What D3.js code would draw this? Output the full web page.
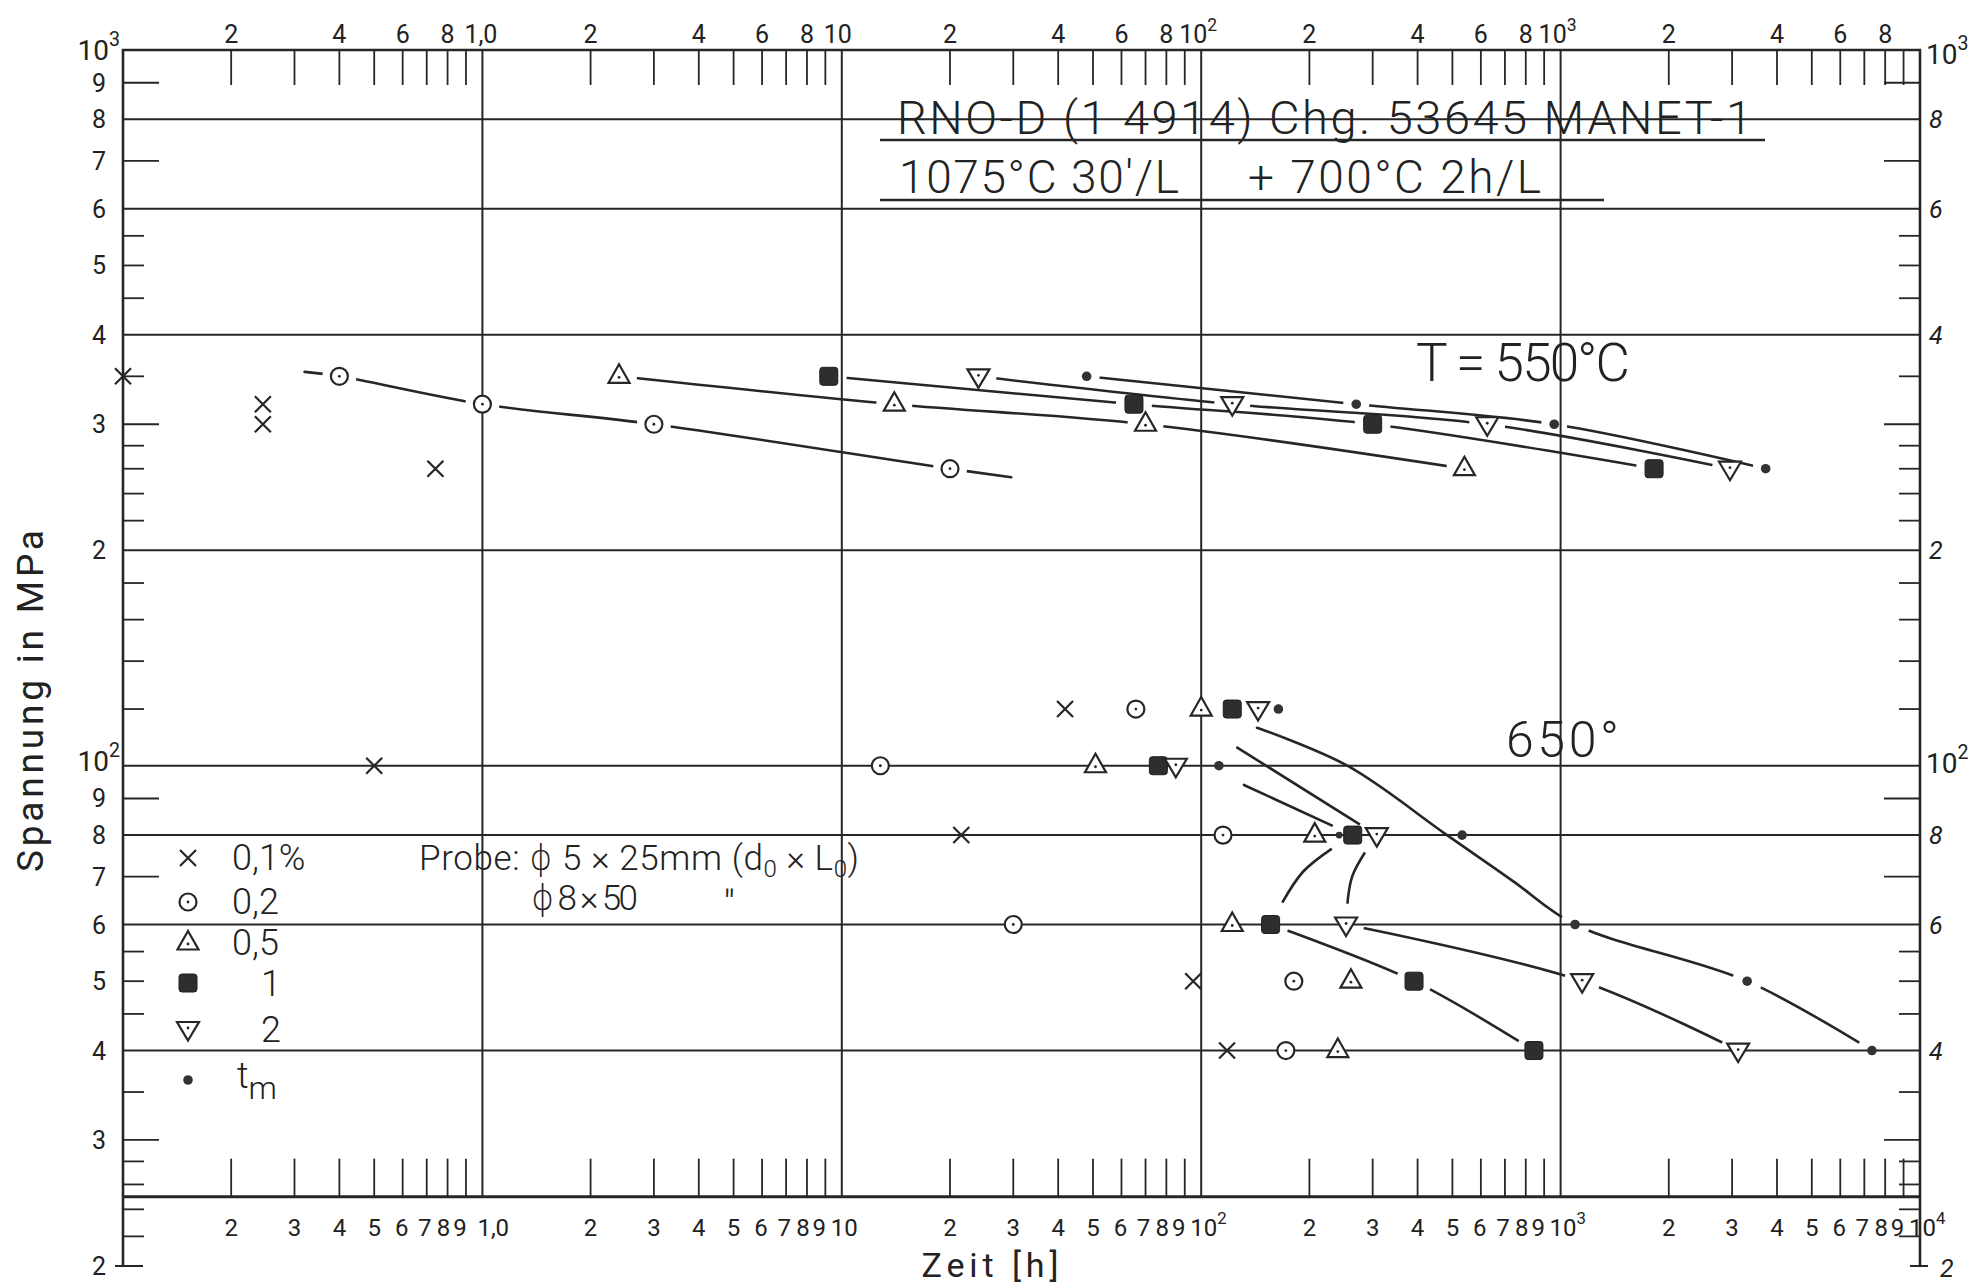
<!DOCTYPE html>
<html>
<head>
<meta charset="utf-8">
<script src="https://cdn.jsdelivr.net/npm/d3@7"></script>
<style>
  html, body { margin: 0; padding: 0; background: #fff; }
  svg { display: block; }
  text { font-family: Roboto, "DejaVu Sans", sans-serif; fill: #222; }
</style>
</head>
<body>
<svg id="chart" width="1981" height="1284"></svg>
<script>
// ---------- Data: creep tests, time [h] vs. stress [MPa] ----------
// 550 °C, strain levels 0.1 / 0.2 / 0.5 / 1 / 2 % and rupture time t_m
const s550_01 = [[0.1, 350], [0.245, 320], [0.245, 300], [0.74, 260]];
const s550_02 = [[0.4, 350], [1.0, 320], [3.0, 300], [20, 260]];
const s550_05 = [[2.4, 350], [14, 320], [70, 300], [540, 260]];
const s550_1  = [[9.2, 350], [65, 320], [300, 300], [1820, 260]];
const s550_2  = [[24, 350], [122, 320], [625, 300], [2960, 260]];
const s550_tm = [[48, 350], [270, 320], [960, 300], [3720, 260]];

// 650 °C
const s650_01 = [[41.8, 120], [0.5, 100], [21.5, 80], [95, 50], [118, 40]];
const s650_02 = [[65.8, 120], [12.8, 100], [115, 80], [30, 60], [181, 50], [172, 40]];
const s650_05 = [[100, 120], [50.8, 100], [207, 80], [122, 60], [261, 50], [240, 40]];
const s650_1  = [[122, 120], [76, 100], [264, 80], [156, 60], [391, 50], [843, 40]];
const s650_2  = [[144, 120], [85, 100], [308, 80], [253, 60], [1148, 50], [3119, 40]];
const s650_tm = [[164, 120], [112, 100], [532, 80], [1097, 60], [3304, 50], [7350, 40]];
const s650_aux = [[242, 80]];

// Hand-drawn trend curves (time, stress)
const c550_02 = [[0.32, 355], [0.4, 350], [1.0, 320], [3.0, 300], [20, 260], [29.6, 253]];
const c650_1a = [[131.5, 94], [264, 80]];
const c650_1b = [[264, 80], [192, 71.1], [156, 60]];
const c650_1c = [[156, 60], [391, 50], [843, 40]];
const c650_2a = [[126, 106], [308, 80]];
const c650_2b = [[308, 80], [263, 70], [253, 60]];
const c650_2c = [[253, 60], [1148, 50], [3119, 40]];
const c650_tm = [[143, 113], [255, 100], [483, 80], [737, 69], [1097, 60], [3304, 50], [7350, 40]];

// ---------- Axis ticks and labels ----------
const decades = [0.1, 1, 10, 100, 1000];
const minorSteps = [2, 3, 4, 5, 6, 7, 8, 9];
const topStepLabels = [2, 4, 6, 8];
const topDecadeLabels = [["1,0", ""], ["10", ""], ["10", "2"], ["10", "3"]];
const bottomDecadeLabels = [["1,0", ""], ["10", ""], ["10", "2"], ["10", "3"], ["10", "4"]];
const xGrid = [1, 10, 100, 1000];
const yGrid = [40, 60, 80, 100, 200, 400, 600, 800];
const yLongTicks = [30, 70, 90, 300, 700, 900];
const yShortTicks = [22, 24, 26, 28, 35, 45, 50, 55, 120, 140, 160, 180, 220, 240, 260, 280, 350, 450, 500, 550];
const leftTickLabels = [[1000, "10", "3"], [900, "9"], [800, "8"], [700, "7"], [600, "6"], [500, "5"],
  [400, "4"], [300, "3"], [200, "2"], [100, "10", "2"], [90, "9"], [80, "8"], [70, "7"], [60, "6"],
  [50, "5"], [40, "4"], [30, "3"], [20, "2"]];
const rightTickLabels = [[1000, "10", "3"], [800, "8"], [600, "6"], [400, "4"], [200, "2"],
  [100, "10", "2"], [80, "8"], [60, "6"], [40, "4"], [20, "2"]];
const axisStress = 25;
const legendLabels = ["0,1%", "0,2", "0,5", "1", "2", "t"];
const legendKinds = ["cross", "circ", "tri", "sq", "tridown", "dot"];

// ---------- Scales ----------
const x = d3.scaleLog().domain([0.1, 1e4]).range([123, 1920]);
const y = d3.scaleLog().domain([20, 1000]).range([1266, 50]);
const ink = "#262626";

const svg = d3.select("#chart");
const X0 = x(0.1), X1 = x(1e4), YT = y(1000), YB = y(20), YA = y(axisStress);

// ---------- Grid and frame ----------
const grid = svg.append("g").attr("stroke", ink).attr("fill", "none");
grid.append("path").attr("stroke-width", 2.6)
  .attr("d", `M${X0},${YB}V${YT}H${X1}V${YB}`);
grid.append("line").attr("stroke-width", 3)
  .attr("x1", X0).attr("x2", X1).attr("y1", YA).attr("y2", YA);
grid.selectAll(".vg").data(xGrid).join("line").attr("stroke-width", 2)
  .attr("x1", d => x(d)).attr("x2", d => x(d)).attr("y1", YT).attr("y2", YA);
grid.selectAll(".hg").data(yGrid).join("line").attr("stroke-width", 2)
  .attr("x1", X0).attr("x2", X1).attr("y1", d => y(d)).attr("y2", d => y(d));

// minor time ticks, top (hanging) and bottom (standing)
const xMinor = decades.flatMap(d => minorSteps.map(m => d * m));
grid.selectAll(".tt").data(xMinor).join("line").attr("stroke-width", 1.8)
  .attr("x1", d => x(d)).attr("x2", d => x(d)).attr("y1", YT).attr("y2", YT + 35);
grid.selectAll(".bt").data(xMinor).join("line").attr("stroke-width", 1.8)
  .attr("x1", d => x(d)).attr("x2", d => x(d)).attr("y1", YA).attr("y2", YA - 38);

// stress ticks, both sides
const yTicks = yLongTicks.map(v => [v, 36]).concat(yShortTicks.map(v => [v, 21]));
grid.selectAll(".lt").data(yTicks).join("line").attr("stroke-width", 1.8)
  .attr("x1", X0).attr("x2", d => X0 + d[1]).attr("y1", d => y(d[0])).attr("y2", d => y(d[0]));
grid.selectAll(".rt").data(yTicks).join("line").attr("stroke-width", 1.8)
  .attr("x1", X1).attr("x2", d => X1 - d[1]).attr("y1", d => y(d[0])).attr("y2", d => y(d[0]));
grid.append("line").attr("stroke-width", 2)
  .attr("x1", X0 - 8).attr("x2", X0 + 20).attr("y1", YB).attr("y2", YB);
grid.append("line").attr("stroke-width", 2)
  .attr("x1", X1 - 10).attr("x2", X1 + 8).attr("y1", YB).attr("y2", YB);

// ---------- Axis labels ----------
const labels = svg.append("g");
function sci(g, base, exp, px, py, anchor, size) {
  const t = g.append("text").attr("x", px).attr("y", py)
    .attr("text-anchor", anchor).attr("font-size", size);
  t.append("tspan").text(base);
  if (exp) t.append("tspan").attr("dy", -size * 0.5).attr("font-size", size * 0.7).text(exp);
  return t;
}
// top
decades.forEach((d, i) => {
  topStepLabels.forEach(m => {
    labels.append("text").attr("x", x(d * m)).attr("y", 43).attr("text-anchor", "middle")
      .attr("font-size", 25).text(m);
  });
  if (i < topDecadeLabels.length) {
    const [b, e] = topDecadeLabels[i];
    sci(labels, b, e, x(d * 10) - (e ? 22 : 18), 43, "start", 25);
  }
});
// bottom: the crowded 7-8-9 digits lean slightly left, decade labels start just before the grid line
const crowdShift = { 6: -1, 7: -2, 8: -4, 9: -6 };
decades.forEach((d, i) => {
  minorSteps.forEach(m => {
    labels.append("text").attr("x", x(d * m) + (crowdShift[m] || 0)).attr("y", 1236)
      .attr("text-anchor", "middle").attr("font-size", 24).text(m);
  });
  const [b, e] = bottomDecadeLabels[i];
  sci(labels, b, e, x(d * 10) - (i === 0 ? 5 : 11), 1236, "start", 24);
});
labels.append("text").attr("x", 990).attr("y", 1277).attr("text-anchor", "middle")
  .attr("font-size", 34).attr("textLength", 137).text("Zeit [h]");

// left / right stress labels
leftTickLabels.forEach(([v, b, e]) => {
  if (e) sci(labels, b, e, 120, y(v) + (v === 1000 ? 10 : 5), "end", 28);
  else labels.append("text").attr("x", 106).attr("y", y(v) + 9).attr("text-anchor", "end")
    .attr("font-size", 25).text(b);
});
rightTickLabels.forEach(([v, b, e]) => {
  if (e) sci(labels, b, e, 1926, y(v) + (v === 1000 ? 14 : 7), "start", 28);
  else labels.append("text").attr("x", v === 20 ? 1940 : 1929).attr("y", y(v) + (v === 20 ? 11 : 9))
    .attr("font-size", 25).attr("font-style", "italic").text(b);
});
labels.append("text")
  .attr("transform", "translate(43,701) rotate(-90)")
  .attr("text-anchor", "middle").attr("font-size", 37).attr("textLength", 342)
  .text("Spannung in MPa");

// ---------- Marker symbols ----------
function marker(g, kind, px, py) {
  const m = g.append("g").attr("transform", `translate(${px},${py})`)
    .attr("stroke", ink).attr("stroke-width", 2.2).attr("fill", "#fff");
  if (kind === "cross") {
    m.append("path").attr("fill", "none").attr("d", "M-8,-8L8,8M-8,8L8,-8");
  } else if (kind === "circ") {
    m.append("circle").attr("r", 8.5);
    m.append("circle").attr("r", 1.4).attr("fill", ink).attr("stroke", "none");
  } else if (kind === "tri") {
    m.append("path").attr("d", "M0,-12L10.5,6.5L-10.5,6.5Z");
    m.append("circle").attr("r", 1.4).attr("fill", ink).attr("stroke", "none").attr("cy", 1);
  } else if (kind === "tridown") {
    m.append("path").attr("d", "M0,11.5L11,-7L-11,-7Z");
    m.append("circle").attr("r", 1.4).attr("fill", ink).attr("stroke", "none").attr("cy", -1);
  } else if (kind === "sq") {
    m.append("rect").attr("x", -9).attr("y", -9).attr("width", 18).attr("height", 18)
      .attr("rx", 3).attr("fill", "#2e2e2e").attr("stroke", "#1f1f1f").attr("stroke-width", 1);
  } else if (kind === "dot") {
    m.append("circle").attr("r", 4.8).attr("fill", "#333").attr("stroke", "none");
  } else if (kind === "smalldot") {
    m.append("circle").attr("r", 3.4).attr("fill", "#333").attr("stroke", "none");
  }
}

// ---------- Trend curves with gaps at the markers ----------
const lineGen = d3.line().x(d => x(d[0])).y(d => y(d[1])).curve(d3.curveCatmullRom.alpha(0.5));
const defs = svg.append("defs");
const curveLayer = svg.append("g");
const curveDefs = [
  [c550_02, s550_02, 17], [s550_05, s550_05, 18], [s550_1, s550_1, 18],
  [s550_2, s550_2, 18], [s550_tm, s550_tm, 13],
  [c650_1a, s650_1, 22], [c650_1b, s650_1, 25], [c650_1c, s650_1, 18],
  [c650_2a, s650_2, 20], [c650_2b, s650_2, 21], [c650_2c, s650_2, 18],
  [c650_tm, s650_tm, 15]
];
curveDefs.forEach(([pts, marks, r], i) => {
  const onCurve = marks.filter(mk => pts.some(p => p[0] === mk[0] && p[1] === mk[1]));
  const mask = defs.append("mask").attr("id", "gap" + i)
    .attr("maskUnits", "userSpaceOnUse").attr("x", 0).attr("y", 0)
    .attr("width", 1981).attr("height", 1284);
  mask.append("rect").attr("width", 1981).attr("height", 1284).attr("fill", "#fff");
  onCurve.forEach(mk => mask.append("circle").attr("cx", x(mk[0])).attr("cy", y(mk[1]))
    .attr("r", r).attr("fill", "#000"));
  curveLayer.append("path").attr("d", lineGen(pts)).attr("fill", "none")
    .attr("stroke", ink).attr("stroke-width", 2.6).attr("stroke-linecap", "round")
    .attr("mask", `url(#gap${i})`);
});

// ---------- Data markers ----------
const markLayer = svg.append("g");
const seriesSets = [
  [s550_01, "cross"], [s550_02, "circ"], [s550_05, "tri"], [s550_1, "sq"], [s550_2, "tridown"], [s550_tm, "dot"],
  [s650_01, "cross"], [s650_02, "circ"], [s650_05, "tri"], [s650_1, "sq"], [s650_2, "tridown"], [s650_tm, "dot"],
  [s650_aux, "smalldot"]
];
seriesSets.forEach(([pts, kind]) => pts.forEach(p => marker(markLayer, kind, x(p[0]), y(p[1]))));

// ---------- Annotations ----------
const ann = svg.append("g");
ann.append("text").attr("x", 897).attr("y", 134).attr("font-size", 47).attr("font-weight", 300)
  .attr("textLength", 855).text("RNO-D (1 4914)  Chg. 53645  MANET-1");
ann.append("line").attr("x1", 880).attr("x2", 1765).attr("y1", 140).attr("y2", 140)
  .attr("stroke", ink).attr("stroke-width", 2.4);
ann.append("text").attr("x", 899).attr("y", 193).attr("font-size", 46).attr("font-weight", 300)
  .attr("textLength", 280).text("1075°C 30'/L");
ann.append("text").attr("x", 1248).attr("y", 193).attr("font-size", 46).attr("font-weight", 300)
  .attr("textLength", 293).text("+ 700°C 2h/L");
ann.append("line").attr("x1", 880).attr("x2", 1604).attr("y1", 200).attr("y2", 200)
  .attr("stroke", ink).attr("stroke-width", 2.4);
ann.append("text").attr("x", 1416).attr("y", 381).attr("font-size", 53).attr("font-weight", 300)
  .attr("textLength", 214).text("T = 550°C");
ann.append("text").attr("x", 1506).attr("y", 757).attr("font-size", 50).attr("font-weight", 300)
  .attr("textLength", 113).text("650°");

// legend
const legYs = [858, 902, 943, 983, 1029, 1080];
legendKinds.forEach((k, i) => marker(ann, k, 188, legYs[i]));
legendLabels.forEach((t, i) => {
  const tx = ann.append("text").attr("font-size", 36).attr("font-weight", 300);
  if (i < 3) tx.attr("x", 232).attr("y", legYs[i] + 12).text(t);
  else if (i < 5) tx.attr("x", 281).attr("y", legYs[i] + 13).attr("text-anchor", "end").text(t);
  else {
    tx.attr("x", 237).attr("y", legYs[i] + 8).text(t);
    tx.append("tspan").attr("dy", 11).attr("font-size", 32).text("m");
  }
});

// specimen note
const probe = ann.append("text").attr("x", 419).attr("y", 870).attr("font-size", 35)
  .attr("font-weight", 300).attr("textLength", 440);
probe.append("tspan").text("Probe: ϕ 5 × 25mm (d");
probe.append("tspan").attr("dy", 7).attr("font-size", 24).text("0");
probe.append("tspan").attr("dy", -7).text(" × L");
probe.append("tspan").attr("dy", 7).attr("font-size", 24).text("0");
probe.append("tspan").attr("dy", -7).text(")");
ann.append("text").attr("x", 531).attr("y", 910).attr("font-size", 35).attr("font-weight", 300)
  .attr("textLength", 107).text("ϕ 8 × 50");
ann.append("text").attr("x", 724).attr("y", 918).attr("font-size", 38).attr("font-weight", 300)
  .text("''");
</script>
</body>
</html>
